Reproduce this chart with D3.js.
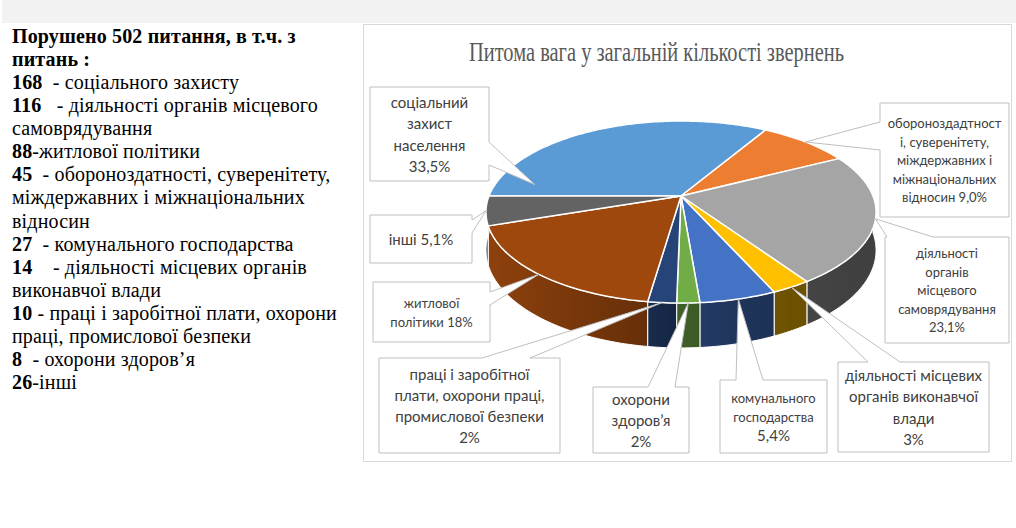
<!DOCTYPE html>
<html>
<head>
<meta charset="utf-8">
<script src="https://cdn.jsdelivr.net/npm/d3@7"></script>
<style>
  body { margin: 0; background: #fff; }
  svg { display: block; }
  .intro text { font-family: "Liberation Serif", "Times New Roman", serif; font-size: 20px; letter-spacing: 0.15px; white-space: pre; }
</style>
</head>
<body>
<svg id="chart" width="1016" height="528"></svg>
<script>
// ---- data ----
const title = "Питома вага у загальній кількості звернень";

const categories = [
    "соціальний захист населення",
    "обороноздатності, суверенітету, міждержавних і міжнаціональних відносин",
    "діяльності органів місцевого самоврядування",
    "діяльності місцевих органів виконавчої влади",
    "комунального господарства",
    "охорони здоров’я",
    "праці і заробітної плати, охорони праці, промислової безпеки",
    "житлової політики",
    "інші"
];
const values = [168, 45, 116, 14, 27, 8, 10, 88, 26];
const colors = ["#5B9BD5", "#ED7D31", "#A5A5A5", "#FFC000", "#4472C4", "#70AD47", "#264478", "#9E480E", "#636363"];

// data label text, line by line as in the chart
const labelLines = [
    ["соціальний", "захист", "населення", "33,5%"],
    ["обороноздадтност", "і, суверенітету,", "міждержавних і", "міжнаціональних", "відносин 9,0%"],
    ["діяльності", "органів", "місцевого", "самоврядування", "23,1%"],
    ["діяльності місцевих", "органів виконавчої", "влади", "3%"],
    ["комунального", "господарства", "5,4%"],
    ["охорони", "здоров’я", "2%"],
    ["праці і заробітної", "плати, охорони праці,", "промислової безпеки", "2%"],
    ["житлової", "політики 18%"],
    ["інші 5,1%"]
];

// text block on the left: [bold part, regular part]
const introLines = [
    ["Порушено 502 питання, в т.ч. з", ""],
    ["питань :", ""],
    ["168", "  - соціального захисту"],
    ["116", "   - діяльності органів місцевого"],
    ["", "самоврядування"],
    ["88", "-житлової політики"],
    ["45", "  - обороноздатності, суверенітету,"],
    ["", "міждержавних і міжнаціональних"],
    ["", "відносин"],
    ["27", "  - комунального господарства"],
    ["14", "    - діяльності місцевих органів"],
    ["", "виконавчої влади"],
    ["10", " - праці і заробітної плати, охорони"],
    ["", "праці, промислової безпеки"],
    ["8", "  - охорони здоров’я"],
    ["26", "-інші"]
];

// ---- layout of the callout boxes (same order as categories) ----
const callouts = [
    { box: [370, 87, 119, 94],  side: "right", base: [142, 165], tip: [0.08, 0.79], size: 15 },
    { box: [880, 103, 129, 114], side: "left", base: [122, 150], tip: [0.5, 1], size: 13 },
    { box: [885, 237, 124, 106], side: "top",  base: [887, 933], tip: [0.5, 1], size: 13 },
    { box: [838, 362, 151, 90],  side: "top",  base: [868, 900], tip: [0.5, 1], size: 15 },
    { box: [720, 380, 107, 73],  side: "top",  base: [736, 763], tip: [0.5, 1], size: 13, lastSize: 15 },
    { box: [593, 387, 96, 66],   side: "top",  base: [648, 675], tip: [0.5, 1], size: 15 },
    { box: [379, 358, 181, 95],  side: "top",  base: [482, 530], tip: [0.5, 1], size: 15 },
    { box: [373, 282, 117, 60],  side: "right", base: [292, 305], tip: [0.5, 1], size: 13 },
    { box: [370, 215, 102, 48],  side: "right", base: [220, 233], tip: [0.5, 1], size: 15 }
];

const svg = d3.select("#chart");

// page background pieces
svg.append("rect").attr("x", 2).attr("y", 0).attr("width", 1014).attr("height", 23).attr("fill", "#f2f2f2");

// left text block
const intro = svg.append("g").attr("class", "intro");

introLines.forEach((ln, i) => {
    const t = intro.append("text")
        .attr("x", 12).attr("y", 43 + i * 23.07)
        .attr("xml:space", "preserve")
        .attr("fill", "#000");
    if (ln[0]) t.append("tspan").attr("font-weight", "bold").text(ln[0]);
    if (ln[1]) t.append("tspan").text(ln[1]);
});

// chart area
svg.append("rect")
    .attr("x", 363.5).attr("y", 24.5).attr("width", 648).attr("height", 437)
    .attr("fill", "#fff").attr("stroke", "#d9d9d9");

svg.append("text")
    .attr("x", 469).attr("y", 61)
    .style("font-family", "'Liberation Serif', 'Times New Roman', serif")
    .style("font-size", "27px")
    .attr("fill", "#595959")
    .attr("textLength", 375)
    .attr("lengthAdjust", "spacingAndGlyphs")
    .text(title);

// ---- 3D pie ----
const cx = 681, cy = 196, R = 192, B = 88.2, persp = 0.176, depth = 37;

// disk angle th (0 = right, growing clockwise on screen), radius fraction r, drop h
function proj(th, r, h) {
    const s = 1 / (1 - persp * r * Math.sin(th));
    return [cx + R * r * Math.cos(th) * s, cy + (B * r * Math.sin(th) + h) * s];
}

const pie = d3.pie().sort(null).startAngle(-Math.PI / 2).endAngle(Math.PI * 1.5);
// d3 angle (from 12 o'clock) -> disk angle, runs from -pi to pi
const arcs = pie(values).map((d, i) => ({
    i: i,
    t0: d.startAngle - Math.PI / 2,
    t1: d.endAngle - Math.PI / 2
}));

function rim(t0, t1, h) {
    const n = Math.max(2, Math.ceil((t1 - t0) / (Math.PI / 180)));
    return d3.range(n + 1).map(k => proj(t0 + (t1 - t0) * k / n, 1, h));
}

const defs = svg.append("defs");
const xl = cx - R * 1.02, xr = cx + R * 1.02;
const shadeStops = [[0, 0.9], [0.4, 0.66], [0.5, 0.55], [0.65, 0.46], [0.8, 0.42], [1, 0.38]];

function shade(c, f) {
    const q = d3.rgb(c);
    return d3.rgb(q.r * f, q.g * f, q.b * f).formatHex();
}

arcs.forEach(a => {
    const g = defs.append("linearGradient")
        .attr("id", "side" + a.i)
        .attr("gradientUnits", "userSpaceOnUse")
        .attr("x1", xl).attr("x2", xr).attr("y1", 0).attr("y2", 0);
    shadeStops.forEach(s => g.append("stop")
        .attr("offset", s[0])
        .attr("stop-color", shade(colors[a.i], s[1])));
});

const line = d3.line();
const pieG = svg.append("g");

// side walls: only the front half (0..pi) can show
arcs.forEach(a => {
    const s0 = Math.max(a.t0, 0), s1 = Math.min(a.t1, Math.PI);
    if (s1 <= s0) return;
    const top = rim(s0, s1, 0);
    const bot = rim(s0, s1, depth).reverse();
    pieG.append("path")
        .attr("d", line(top.concat(bot)) + "Z")
        .attr("fill", `url(#side${a.i})`)
        .attr("stroke", "#fff")
        .attr("stroke-width", 1)
        .attr("stroke-linejoin", "round");
});

// top faces
arcs.forEach(a => {
    const pts = [[cx, cy]].concat(rim(a.t0, a.t1, 0));
    pieG.append("path")
        .attr("d", line(pts) + "Z")
        .attr("fill", colors[a.i])
        .attr("stroke", "#fff")
        .attr("stroke-width", 1.5)
        .attr("stroke-linejoin", "round");
});

// ---- callouts ----
function calloutPath(c, tip) {
    const [x, y, w, h] = c.box, [a, b] = c.base;
    const p = [[x, y]];
    if (c.side === "top") p.push([a, y], tip, [b, y]);
    p.push([x + w, y]);
    if (c.side === "right") p.push([x + w, a], tip, [x + w, b]);
    p.push([x + w, y + h], [x, y + h]);
    if (c.side === "left") p.push([x, b], tip, [x, a]);
    return line(p) + "Z";
}

const labG = svg.append("g");
callouts.forEach((c, i) => {
    const a = arcs[i];
    const tip = proj(a.t0 + (a.t1 - a.t0) * c.tip[0], c.tip[1], 0);
    labG.append("path")
        .attr("d", calloutPath(c, tip))
        .attr("fill", "#fff")
        .attr("stroke", "#bfbfbf")
        .attr("stroke-width", 1)
        .attr("stroke-linejoin", "miter");

    const lines = labelLines[i];
    const lh = c.size * 1.42;
    const mx = c.box[0] + c.box[2] / 2;
    const my = c.box[1] + c.box[3] / 2 + 1.5;
    const t = labG.append("text")
        .attr("text-anchor", "middle")
        .style("font-family", "Lato, 'Open Sans', sans-serif")
        .attr("fill", "#404040");
    lines.forEach((s, k) => {
        const fs = (k === lines.length - 1 && c.lastSize) ? c.lastSize : c.size;
        t.append("tspan")
            .attr("x", mx)
            .attr("y", my + (k - (lines.length - 1) / 2) * lh + fs * 0.3)
            .style("font-size", fs + "px")
            .text(s);
    });
});
</script>
</body>
</html>
